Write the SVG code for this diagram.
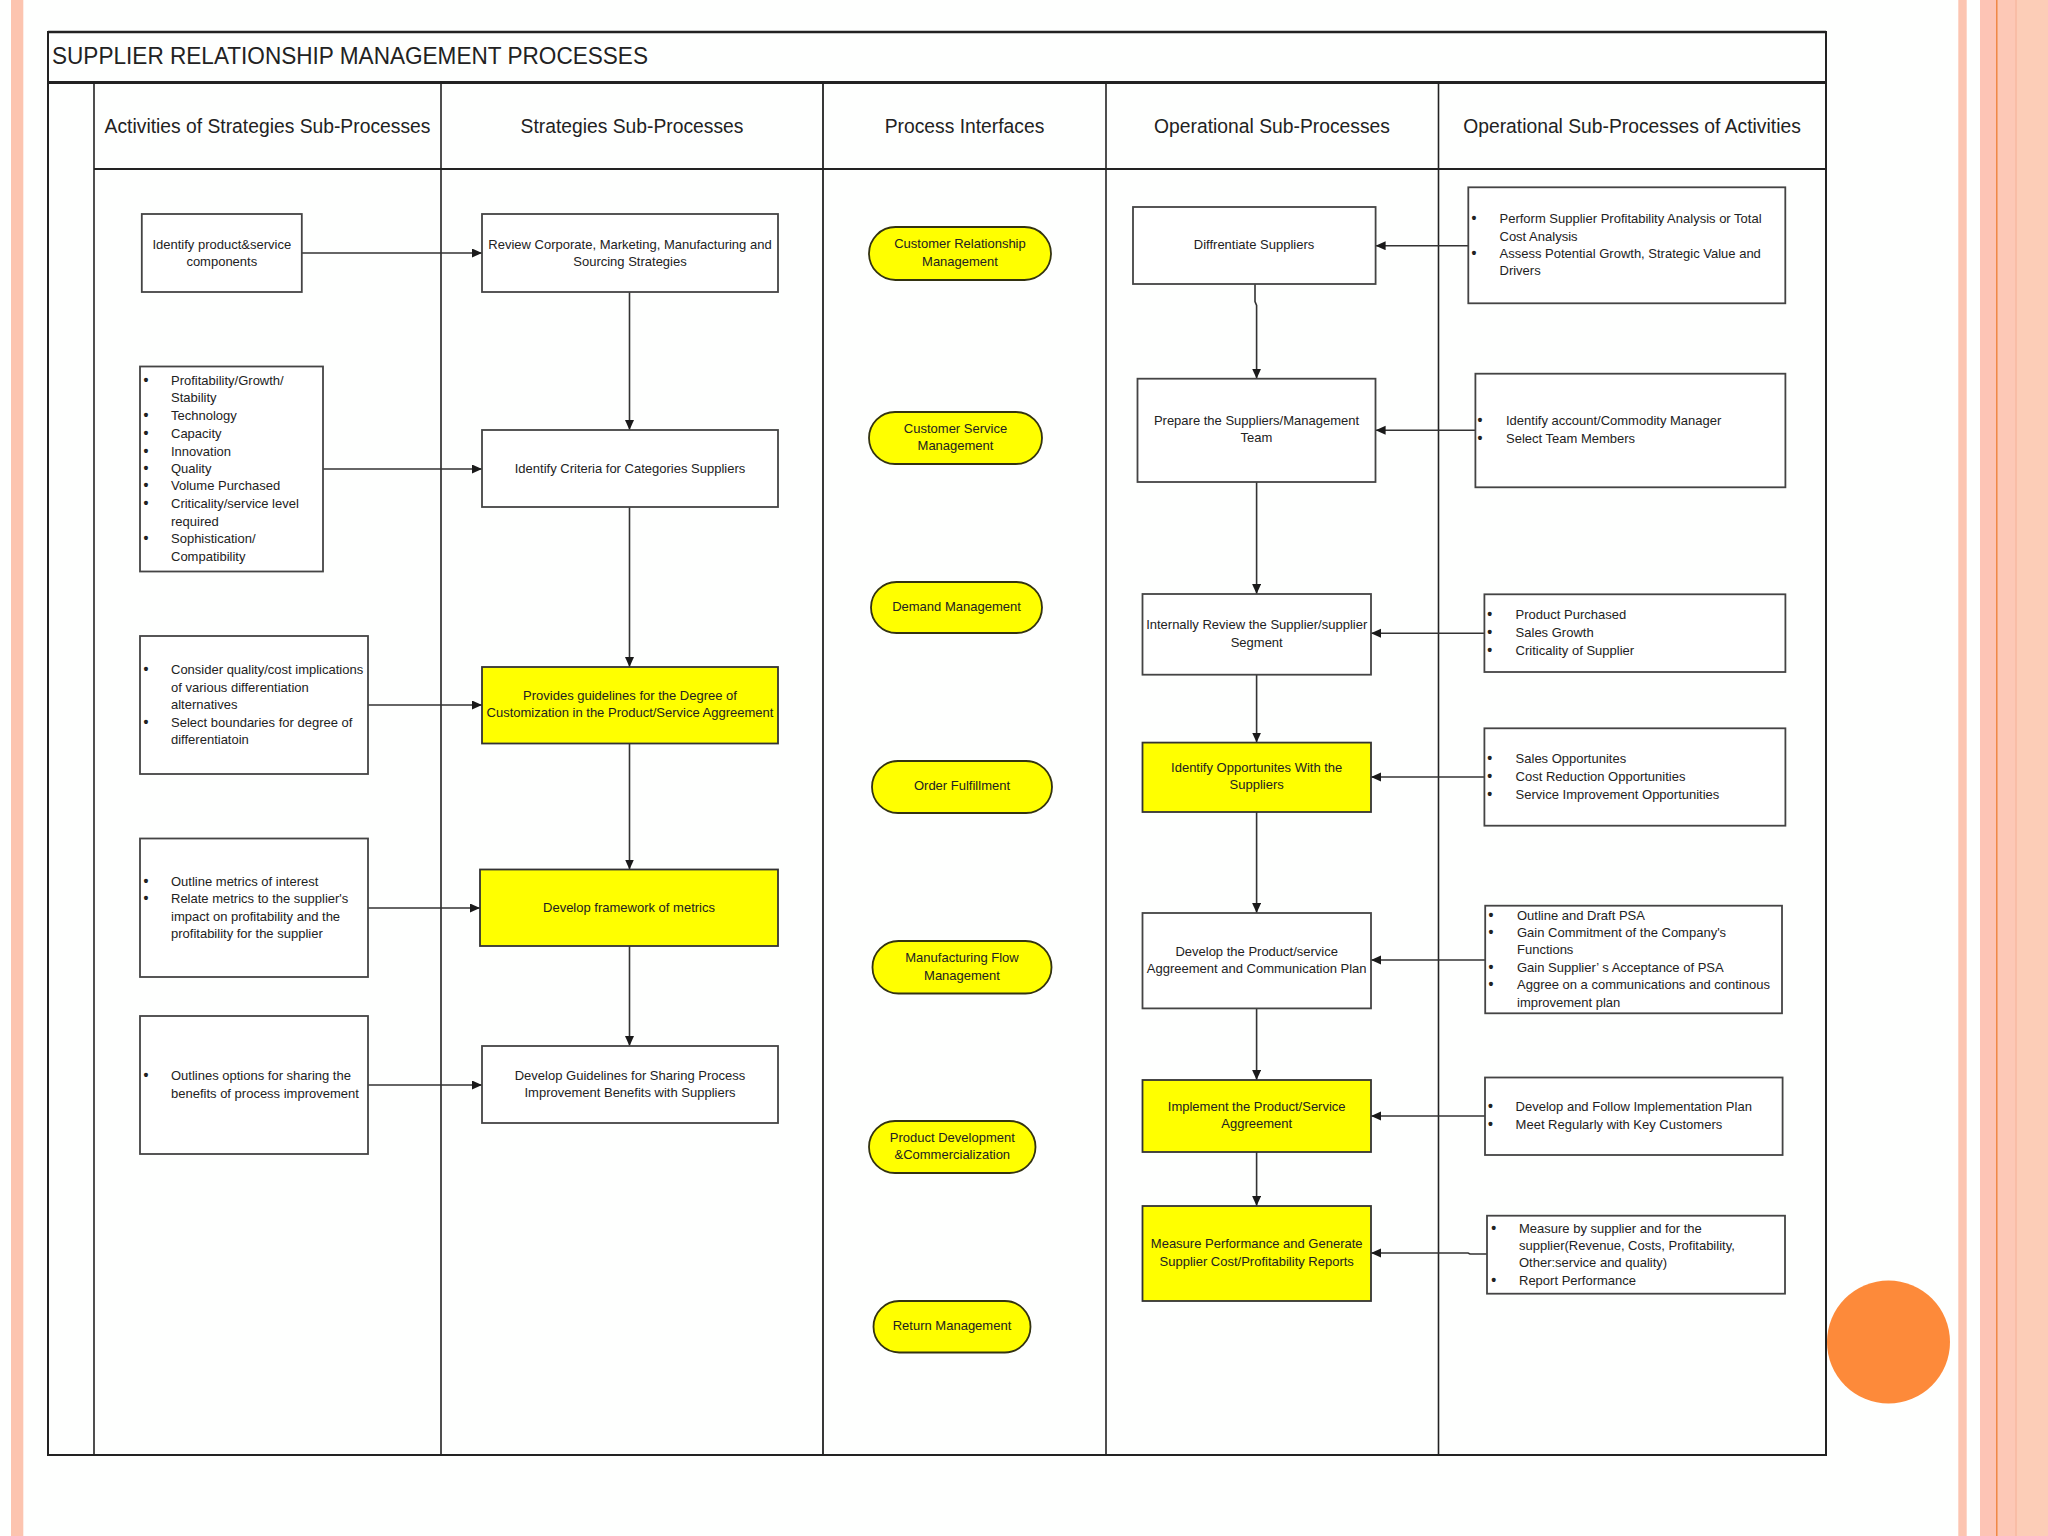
<svg xmlns="http://www.w3.org/2000/svg" width="2048" height="1536" viewBox="0 0 2048 1536">
<defs>
<style>
.t{font-family:"Liberation Sans",Arial,sans-serif;font-size:13px;fill:#222}
.c{text-anchor:middle}
.b{font-size:14px;font-weight:bold;text-anchor:middle}
.h{font-family:"Liberation Sans",Arial,sans-serif;font-size:19.3px;fill:#222;text-anchor:middle}
.box{fill:#fff;stroke:#444;stroke-width:1.8}
.yb{fill:#ffff00;stroke:#333;stroke-width:1.8}
.pill{fill:#ffff00;stroke:#333311;stroke-width:1.8}
.fr{stroke:#222;fill:none}
.conn{stroke:#333;stroke-width:1.6;fill:none;marker-end:url(#ah)}
</style>
<marker id="ah" markerWidth="12" markerHeight="10" refX="10" refY="4.5" orient="auto" markerUnits="userSpaceOnUse">
<path d="M0,0 L10,4.5 L0,9 z" fill="#1a1a1a"/>
</marker>
</defs>
<rect width="2048" height="1536" fill="#fefffe"/>
<g id="decor">
<rect x="11" y="0" width="12.3" height="1536" fill="#fcc4af"/>
<rect x="1958.3" y="0" width="8.4" height="1536" fill="#fcc5b1"/>
<rect x="1980" y="0" width="16" height="1536" fill="#fdc4b5"/>
<rect x="1996" y="0" width="1.8" height="1536" fill="#f08848"/>
<rect x="1997.8" y="0" width="17.2" height="1536" fill="#fdc8b6"/>
<rect x="2015" y="0" width="33" height="1536" fill="#fccdb7"/>
<rect x="2015" y="0" width="2" height="1536" fill="#f9bda6"/>
<ellipse cx="1888.5" cy="1342" rx="61.5" ry="61.5" fill="#fd8a3a"/>
</g>
<g id="frame">
<line class="fr" x1="48" y1="32" x2="1826" y2="32" stroke-width="2.5"/>
<line class="fr" x1="48" y1="82.5" x2="1826" y2="82.5" stroke-width="3"/>
<line class="fr" x1="94" y1="169" x2="1826" y2="169" stroke-width="2"/>
<line class="fr" x1="48" y1="1455" x2="1826" y2="1455" stroke-width="2"/>
<line class="fr" x1="48" y1="31" x2="48" y2="1456" stroke-width="2"/>
<line class="fr" x1="1826" y1="31" x2="1826" y2="1456" stroke-width="2"/>
<line class="fr" x1="94" y1="83" x2="94" y2="1455" stroke-width="1.6"/>
<line class="fr" x1="441" y1="83" x2="441" y2="1455" stroke-width="1.6"/>
<line class="fr" x1="823" y1="83" x2="823" y2="1455" stroke-width="1.8"/>
<line class="fr" x1="1106" y1="83" x2="1106" y2="1455" stroke-width="1.6"/>
<line class="fr" x1="1438.5" y1="83" x2="1438.5" y2="1455" stroke-width="1.6"/>
<text x="52" y="64" font-family="'Liberation Sans',Arial,sans-serif" font-size="24" fill="#222" textLength="596" lengthAdjust="spacingAndGlyphs">SUPPLIER RELATIONSHIP MANAGEMENT PROCESSES</text>
<text class="h" x="267.5" y="133">Activities of Strategies Sub-Processes</text>
<text class="h" x="632" y="133">Strategies Sub-Processes</text>
<text class="h" x="964.5" y="133">Process Interfaces</text>
<text class="h" x="1272" y="133">Operational Sub-Processes</text>
<text class="h" x="1632" y="133">Operational Sub-Processes of Activities</text>
</g>
<g id="connectors">
<path class="conn" d="M302,253 H482"/>
<path class="conn" d="M323,469 H482"/>
<path class="conn" d="M368,705 H482"/>
<path class="conn" d="M368,908 H480"/>
<path class="conn" d="M368,1085 H482"/>
<path class="conn" d="M629.5,292 V430"/>
<path class="conn" d="M629.5,507 V667"/>
<path class="conn" d="M629.5,743.5 V869.5"/>
<path class="conn" d="M629.5,946 V1046"/>
<path class="conn" d="M1255,284 V301.5 L1256.6,305.5 V378.7"/>
<path class="conn" d="M1256.6,482 V594"/>
<path class="conn" d="M1256.6,674.7 V742.6"/>
<path class="conn" d="M1256.6,812 V913"/>
<path class="conn" d="M1256.6,1008.4 V1080"/>
<path class="conn" d="M1256.6,1152 V1206"/>
<path class="conn" d="M1468,245.7 H1375.6"/>
<path class="conn" d="M1475,430.3 H1375.6"/>
<path class="conn" d="M1484,633.3 H1371"/>
<path class="conn" d="M1484,777 H1371"/>
<path class="conn" d="M1485,960 H1371"/>
<path class="conn" d="M1485,1116 H1371"/>
<path class="conn" d="M1487,1254 H1470 L1468,1253 H1371"/>
</g>
<g id="n-identify-components">
<rect class="box" x="141.8" y="214" width="160" height="78"/>
<text class="t c" x="221.8" y="248.5">Identify product&amp;service</text>
<text class="t c" x="221.8" y="265.8">components</text>
</g>
<g id="n-criteria-list">
<rect class="box" x="140" y="366.5" width="183" height="205"/>
<g class="t">
<text x="146" y="384.5" class="b">•</text><text x="171" y="384.5">Profitability/Growth/</text>
<text x="171" y="402.2">Stability</text>
<text x="146" y="419.8" class="b">•</text><text x="171" y="419.8">Technology</text>
<text x="146" y="437.8" class="b">•</text><text x="171" y="437.8">Capacity</text>
<text x="146" y="455.5" class="b">•</text><text x="171" y="455.5">Innovation</text>
<text x="146" y="472.8" class="b">•</text><text x="171" y="472.8">Quality</text>
<text x="146" y="490.2" class="b">•</text><text x="171" y="490.2">Volume Purchased</text>
<text x="146" y="507.8" class="b">•</text><text x="171" y="507.8">Criticality/service level</text>
<text x="171" y="525.5">required</text>
<text x="146" y="543.2" class="b">•</text><text x="171" y="543.2">Sophistication/</text>
<text x="171" y="560.5">Compatibility</text>
</g>
</g>
<g id="n-consider">
<rect class="box" x="140" y="636" width="228" height="138"/>
<g class="t">
<text x="146" y="674.1" class="b">•</text><text x="171" y="674.1">Consider quality/cost implications</text>
<text x="171" y="691.5">of various differentiation</text>
<text x="171" y="709.1">alternatives</text>
<text x="146" y="726.5" class="b">•</text><text x="171" y="726.5">Select boundaries for degree of</text>
<text x="171" y="743.5">differentiatoin</text>
</g>
</g>
<g id="n-outline-metrics">
<rect class="box" x="140" y="838.5" width="228" height="138.5"/>
<g class="t">
<text x="146" y="885.5" class="b">•</text><text x="171" y="885.5">Outline metrics of interest</text>
<text x="146" y="903" class="b">•</text><text x="171" y="903">Relate metrics to the supplier's</text>
<text x="171" y="920.5">impact on profitability and the</text>
<text x="171" y="937.9">profitability for the supplier</text>
</g>
</g>
<g id="n-outline-options">
<rect class="box" x="140" y="1016" width="228" height="138"/>
<g class="t">
<text x="146" y="1080" class="b">•</text><text x="171" y="1080">Outlines options for sharing the</text>
<text x="171" y="1097.5">benefits of process improvement</text>
</g>
</g>
<g id="n-review">
<rect class="box" x="482" y="214" width="296" height="78"/>
<text class="t c" x="630" y="248.5">Review Corporate, Marketing, Manufacturing and</text>
<text class="t c" x="630" y="265.8">Sourcing Strategies</text>
</g>
<g id="n-criteria">
<rect class="box" x="482" y="430" width="296" height="77"/>
<text class="t c" x="630" y="472.8">Identify Criteria for Categories Suppliers</text>
</g>
<g id="n-guidelines">
<rect class="yb" x="482" y="667" width="296" height="76.5"/>
<text class="t c" x="630" y="700.2">Provides guidelines for the Degree of</text>
<text class="t c" x="630" y="717.3">Customization in the Product/Service Aggreement</text>
</g>
<g id="n-framework">
<rect class="yb" x="480" y="869.5" width="298" height="76.5"/>
<text class="t c" x="629" y="911.5">Develop framework of metrics</text>
</g>
<g id="n-sharing">
<rect class="box" x="482" y="1046" width="296" height="77"/>
<text class="t c" x="630" y="1080">Develop Guidelines for Sharing Process</text>
<text class="t c" x="630" y="1097.2">Improvement Benefits with Suppliers</text>
</g>
<g id="p-crm">
<rect class="pill" x="869" y="227" width="182" height="53" rx="26.5"/>
<text class="t c" x="960" y="248">Customer Relationship</text>
<text class="t c" x="960" y="265.5">Management</text>
</g>
<g id="p-csm">
<rect class="pill" x="869" y="412" width="173" height="52" rx="26"/>
<text class="t c" x="955.5" y="432.8">Customer Service</text>
<text class="t c" x="955.5" y="450.2">Management</text>
</g>
<g id="p-demand">
<rect class="pill" x="871" y="582" width="171" height="51" rx="25.5"/>
<text class="t c" x="956.5" y="610.9">Demand Management</text>
</g>
<g id="p-order">
<rect class="pill" x="872" y="761" width="180" height="52" rx="26"/>
<text class="t c" x="962" y="790.3">Order Fulfillment</text>
</g>
<g id="p-mfm">
<rect class="pill" x="872.5" y="941" width="179" height="52.5" rx="26"/>
<text class="t c" x="962" y="962">Manufacturing Flow</text>
<text class="t c" x="962" y="979.5">Management</text>
</g>
<g id="p-pd">
<rect class="pill" x="869" y="1121" width="166.5" height="52" rx="26"/>
<text class="t c" x="952.3" y="1141.5">Product Development</text>
<text class="t c" x="952.3" y="1159.1">&amp;Commercialization</text>
</g>
<g id="p-return">
<rect class="pill" x="873.5" y="1301" width="157" height="51.5" rx="25.7"/>
<text class="t c" x="952" y="1330.2">Return Management</text>
</g>
<g id="n-differentiate">
<rect class="box" x="1133" y="207" width="242.6" height="77"/>
<text class="t c" x="1254" y="249.3">Diffrentiate Suppliers</text>
</g>
<g id="n-prepare">
<rect class="box" x="1137.5" y="378.7" width="238" height="103.3"/>
<text class="t c" x="1256.5" y="424.5">Prepare the Suppliers/Management</text>
<text class="t c" x="1256.5" y="442.2">Team</text>
</g>
<g id="n-review-segment">
<rect class="box" x="1142.5" y="594" width="228.5" height="80.7"/>
<text class="t c" x="1256.7" y="629.2">Internally Review the Supplier/supplier</text>
<text class="t c" x="1256.7" y="646.5">Segment</text>
</g>
<g id="n-opportunities">
<rect class="yb" x="1142.5" y="742.6" width="228.5" height="69.4"/>
<text class="t c" x="1256.7" y="771.5">Identify Opportunites With the</text>
<text class="t c" x="1256.7" y="789">Suppliers</text>
</g>
<g id="n-develop-agreement">
<rect class="box" x="1142.5" y="913" width="228.5" height="95.4"/>
<text class="t c" x="1256.7" y="955.5">Develop the Product/service</text>
<text class="t c" x="1256.7" y="972.8">Aggreement and Communication Plan</text>
</g>
<g id="n-implement">
<rect class="yb" x="1142.5" y="1080" width="228.5" height="72"/>
<text class="t c" x="1256.7" y="1110.9">Implement the Product/Service</text>
<text class="t c" x="1256.7" y="1128.1">Aggreement</text>
</g>
<g id="n-measure">
<rect class="yb" x="1142.5" y="1206" width="228.5" height="95"/>
<text class="t c" x="1256.7" y="1248.3">Measure Performance and Generate</text>
<text class="t c" x="1256.7" y="1265.5">Supplier Cost/Profitability Reports</text>
</g>
<g id="a-differentiate">
<rect class="box" x="1468.3" y="187.3" width="317" height="116"/>
<g class="t">
<text x="1474" y="222.8" class="b">•</text><text x="1499.5" y="222.8">Perform Supplier Profitability Analysis or Total</text>
<text x="1499.5" y="240.5">Cost Analysis</text>
<text x="1474" y="257.8" class="b">•</text><text x="1499.5" y="257.8">Assess Potential Growth, Strategic Value and</text>
<text x="1499.5" y="275.2">Drivers</text>
</g>
</g>
<g id="a-prepare">
<rect class="box" x="1475.4" y="373.7" width="310" height="113.6"/>
<g class="t">
<text x="1480" y="424.8" class="b">•</text><text x="1506" y="424.8">Identify account/Commodity Manager</text>
<text x="1480" y="442.5" class="b">•</text><text x="1506" y="442.5">Select Team Members</text>
</g>
</g>
<g id="a-review">
<rect class="box" x="1484.4" y="594.3" width="301" height="77.7"/>
<g class="t">
<text x="1489.7" y="618.8" class="b">•</text><text x="1515.6" y="618.8">Product Purchased</text>
<text x="1489.7" y="636.8" class="b">•</text><text x="1515.6" y="636.8">Sales Growth</text>
<text x="1489.7" y="654.5" class="b">•</text><text x="1515.6" y="654.5">Criticality of Supplier</text>
</g>
</g>
<g id="a-opportunities">
<rect class="box" x="1484.4" y="728.3" width="301" height="97.4"/>
<g class="t">
<text x="1489.7" y="762.8" class="b">•</text><text x="1515.6" y="762.8">Sales Opportunites</text>
<text x="1489.7" y="780.5" class="b">•</text><text x="1515.6" y="780.5">Cost Reduction Opportunities</text>
<text x="1489.7" y="798.5" class="b">•</text><text x="1515.6" y="798.5">Service Improvement Opportunities</text>
</g>
</g>
<g id="a-agreement">
<rect class="box" x="1485.2" y="905.7" width="296.8" height="107.6"/>
<g class="t">
<text x="1491" y="919.5" class="b">•</text><text x="1517" y="919.5">Outline and Draft PSA</text>
<text x="1491" y="937.2" class="b">•</text><text x="1517" y="937.2">Gain Commitment of the Company's</text>
<text x="1517" y="953.8">Functions</text>
<text x="1491" y="971.8" class="b">•</text><text x="1517" y="971.8">Gain Supplier’ s Acceptance of PSA</text>
<text x="1491" y="989.2" class="b">•</text><text x="1517" y="989.2">Aggree on a communications and continous</text>
<text x="1517" y="1006.8">improvement plan</text>
</g>
</g>
<g id="a-implement">
<rect class="box" x="1485" y="1077.5" width="297.6" height="77.5"/>
<g class="t">
<text x="1490.5" y="1111.2" class="b">•</text><text x="1515.6" y="1111.2">Develop and Follow Implementation Plan</text>
<text x="1490.5" y="1128.5" class="b">•</text><text x="1515.6" y="1128.5">Meet Regularly with Key Customers</text>
</g>
</g>
<g id="a-measure">
<rect class="box" x="1487" y="1215.7" width="298" height="78"/>
<g class="t">
<text x="1493.6" y="1232.8" class="b">•</text><text x="1519" y="1232.8">Measure by supplier and for the</text>
<text x="1519" y="1250.2">supplier(Revenue, Costs, Profitability,</text>
<text x="1519" y="1267.2">Other:service and quality)</text>
<text x="1493.6" y="1284.5" class="b">•</text><text x="1519" y="1284.5">Report Performance</text>
</g>
</g>
</svg>
